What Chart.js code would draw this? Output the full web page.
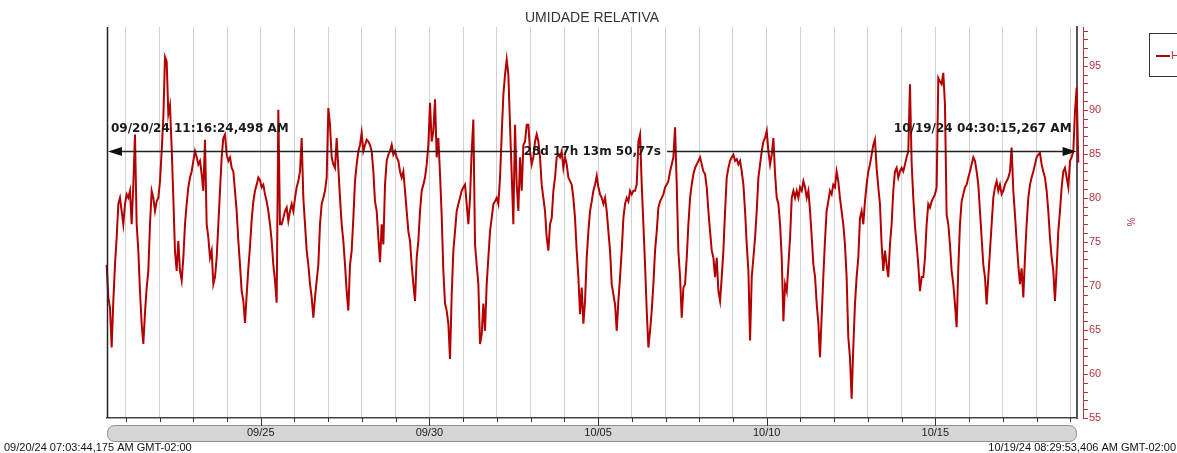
<!DOCTYPE html>
<html><head><meta charset="utf-8">
<script src="https://cdn.jsdelivr.net/npm/chart.js@4.4.1/dist/chart.umd.min.js"></script>
<style>html,body{margin:0;padding:0;background:#fff;overflow:hidden}canvas{display:block}</style>
</head><body>
<canvas id="c" width="1177" height="453"></canvas>
<script>
// ---- data (hours counted from 09/20/24 00:00 GMT-02:00) ----
const chartTitle = 'UMIDADE RELATIVA';
const seriesLabel = 'HR';
const axisUnit = '%';
const sampleStepHours = 1.186;
const segmentStartHours = [6.8, 176.4, 347.2, 517.9];
const humiditySeg1 = [
77.9,73.2,73.0,72.4,68.7,67.5,63.0,68.3,72.4,75.5,
79.3,80.0,78.5,77.0,79.3,80.4,80.0,80.8,77.0,81.5,
87.2,77.0,74.0,69.4,65.7,63.4,67.0,69.8,71.7,77.0,
80.8,80.0,78.5,79.6,80.0,81.9,85.3,89.1,96.0,95.5,
89.5,90.5,85.7,80.0,73.9,71.7,75.1,71.7,70.6,73.2,
77.0,79.3,81.2,82.3,83.0,84.2,85.3,84.6,83.8,84.2,
82.7,80.8,86.6,77.0,75.5,73.2,74.0,70.2,71.0,73.2,
77.0,80.8,84.6,86.8,87.2,84.9,84.2,84.6,83.4,83.0,
80.8,78.5,75.1,72.4,69.4,68.3,65.8,69.0,72.0,74.5,
77.5,79.6,80.8,81.5,82.3,82.0,81.2,81.5,80.4,79.6,
78.5,77.0,75.1,72.4,70.6,68.1,90.0,77.0,77.0,77.7,
78.5,78.9,77.4,78.5,79.3,78.5,80.0,81.2,81.9,83.0,
86.8,80.0,77.0,74.0,72.4,70.2,68.7,66.4,68.7,70.6,
72.4,77.0,79.3,80.0,80.8,82.3,90.2,88.3,84.6,83.8,
83.4,86.8,83.4];
const humiditySeg2 = [
80.0,77.0,75.1,72.4,69.4,67.2,72.4,74.0,77.7,81.9,
83.8,85.3,86.0,87.4,85.3,86.0,86.6,86.4,86.0,85.3,
83.0,79.6,78.5,75.5,72.7,77.0,74.7,81.5,84.2,84.9,
85.3,86.0,84.9,85.3,84.6,84.2,83.0,82.3,83.0,80.8,
78.5,76.2,75.1,72.4,70.2,68.3,73.2,75.1,78.5,80.8,
81.5,82.3,83.8,86.0,90.8,86.4,87.6,91.2,84.6,86.8,
82.7,78.0,71.7,68.0,67.2,65.7,61.7,69.0,74.0,76.2,
78.5,79.3,80.0,80.8,81.2,81.5,79.3,77.0,80.0,85.3,
88.9,74.7,72.4,70.2,63.4,64.5,68.0,64.9,70.2,73.2,
76.2,77.7,79.3,79.6,80.0,79.3,82.3,87.2,91.7,94.0,
95.7,94.0,88.3,82.7,77.0,88.3,81.5,78.5,84.6,80.8,
86.0,86.4,88.3,88.3,85.3,83.8,84.6,86.4,87.2,86.4,
84.6,81.5,80.0,78.5,75.5,74.0,77.0,77.7,80.8,82.3,
84.6,84.9,84.6,85.3,83.4,84.6,83.8,82.3,81.9,81.5,
80.0,77.7,74.0,71.0];
const humiditySeg3 = [
66.8,69.8,65.7,68.3,73.2,76.2,78.5,79.6,80.8,81.5,
82.5,81.2,80.4,80.0,79.3,80.0,78.5,76.2,74.0,70.2,
69.0,67.9,64.9,68.3,71.0,74.0,77.7,79.3,80.0,79.6,
80.8,80.4,80.8,80.8,81.5,86.4,87.2,81.5,77.0,72.4,
67.2,63.0,64.9,67.2,70.2,74.0,76.2,78.9,79.6,80.0,
80.4,81.2,81.5,81.9,83.0,83.8,84.6,88.0,81.5,73.9,
71.0,66.4,69.8,70.2,73.2,77.0,80.0,81.5,82.7,83.4,
83.8,84.2,84.6,83.8,83.0,82.7,81.2,78.5,76.2,74.0,
73.2,71.0,73.2,69.4,68.3,71.0,74.0,78.5,82.3,83.4,
84.2,84.6,84.9,84.2,84.4,83.8,84.2,83.0,81.5,78.5,
74.7,71.7,63.8,71.0,73.2,75.5,78.5,82.3,83.8,85.3,
86.4,86.8,87.6,85.3,83.8,84.9,86.8,82.7,80.0,79.3,
77.0,73.2,66.0,70.2,69.4,72.4,75.5,80.0,80.8,80.0,
80.8,80.0,81.2,80.8,81.9,81.2,80.0,80.8,78.5,75.5,
72.4,71.0,67.9,65.7];
const humiditySeg4 = [
61.9,66.4,71.0,75.1,78.5,79.6,80.8,80.4,81.5,81.2,
83.0,81.9,80.0,78.5,77.0,74.7,71.0,64.2,61.9,57.2,
63.0,67.9,71.0,73.2,77.7,78.5,77.0,79.6,81.5,83.0,
83.8,84.9,86.0,86.6,83.4,81.2,79.3,74.7,71.7,74.0,
72.4,71.0,74.7,77.0,80.8,83.0,83.4,82.3,83.0,83.4,
83.0,83.8,84.6,85.3,92.9,84.0,80.0,76.8,74.7,72.4,
69.4,71.0,71.0,73.2,77.0,79.3,78.9,79.6,80.0,80.4,
81.2,93.6,93.2,92.9,94.2,90.6,78.1,77.0,74.7,71.7,
70.2,67.9,65.3,72.0,77.0,79.6,80.4,81.2,81.5,82.3,
83.0,83.8,84.6,84.2,83.0,81.5,78.5,75.5,72.4,71.0,
67.9,71.0,74.0,77.0,80.0,81.2,81.9,80.8,81.5,80.4,
80.8,81.5,81.9,82.3,83.0,85.7,80.8,78.1,75.1,72.4,
70.2,72.0,68.7,73.2,77.0,80.0,81.5,82.3,83.0,83.8,
84.6,84.9,85.1,83.8,83.0,82.3,80.8,78.5,75.5,73.2,
71.7,68.3,72.0,76.2,78.5,81.2,83.0,83.4,82.3,81.2,
84.2,84.6,85.3,89.8,92.5,84.0,81.0];

const xMinHour = 10.6, xMaxHour = 700.8;
const dayTickHours = [24,48,72,96,120,144,168,192,216,240,264,288,312,336,360,384,408,432,456,480,504,528,552,576,600,624,648,672,696];
const xTickHours = [120,240,360,480,600];
const xTickLabels = ['09/25','09/30','10/05','10/10','10/15'];
const yMin = 55, yMax = 99.4;
const yTickValues = [55,60,65,70,75,80,85,90,95];
const yMinorTicks = [55,56,57,58,59,60,61,62,63,64,65,66,67,68,69,70,71,72,73,74,75,76,77,78,79,80,81,82,83,84,85,86,87,88,89,90,91,92,93,94,95,96,97,98,99];
const measureStartHour = 11.273, measureEndHour = 700.504, measureLevel = 85.3;
const measureStartLabel = '09/20/24 11:16:24,498 AM';
const measureEndLabel = '10/19/24 04:30:15,267 AM';
const measureSpanLabel = '28d 17h 13m 50,77s';
const rangeStartLabel = '09/20/24 07:03:44,175 AM GMT-02:00';
const rangeEndLabel = '10/19/24 08:29:53,406 AM GMT-02:00';

// ---- build points ----
const segments = [humiditySeg1, humiditySeg2, humiditySeg3, humiditySeg4];
const points = [];
segments.forEach((seg, s) => seg.forEach((v, i) => points.push({x: segmentStartHours[s] + i * sampleStepHours, y: v})));

const lineRed = '#b40000';
const axisRed = '#b8303a';
const SANS = '"Liberation Sans", Arial, sans-serif';

function rr(ctx, x, y, w, h, r) {
  ctx.beginPath();
  ctx.moveTo(x + r, y); ctx.lineTo(x + w - r, y); ctx.arcTo(x + w, y, x + w, y + r, r);
  ctx.lineTo(x + w, y + h - r); ctx.arcTo(x + w, y + h, x + w - r, y + h, r);
  ctx.lineTo(x + r, y + h); ctx.arcTo(x, y + h, x, y + h - r, r);
  ctx.lineTo(x, y + r); ctx.arcTo(x, y, x + r, y, r); ctx.closePath();
}

const decor = {
  id: 'decor',
  beforeDraw(chart) {
    const {ctx, chartArea: a} = chart;
    ctx.save();
    rr(ctx, a.left + 0.5, a.bottom + 7.5, a.right - a.left - 1, 16, 7);
    ctx.fillStyle = '#d6d6d6'; ctx.fill();
    ctx.strokeStyle = '#8e8e8e'; ctx.lineWidth = 1; ctx.stroke();
    ctx.restore();
  },
  afterDatasetsDraw(chart) {
    const {ctx, chartArea: a, scales: {x: xs, y: ys}} = chart;
    ctx.save();
    // left frame line
    ctx.strokeStyle = '#222'; ctx.lineWidth = 1.5;
    ctx.beginPath(); ctx.moveTo(a.left + 0.5, a.top); ctx.lineTo(a.left + 0.5, a.bottom); ctx.stroke();
    // measurement annotation
    const x1 = xs.getPixelForValue(measureStartHour), x2 = xs.getPixelForValue(measureEndHour);
    const yl = Math.round(ys.getPixelForValue(measureLevel)) + 0.5;
    ctx.font = 'bold 12px "DejaVu Sans", Verdana, sans-serif';
    const cx = (x1 + x2) / 2;
    const tw = ctx.measureText(measureSpanLabel).width;
    ctx.strokeStyle = '#222'; ctx.lineWidth = 1.3;
    ctx.beginPath();
    ctx.moveTo(x1 + 10, yl); ctx.lineTo(cx - tw / 2 - 6, yl);
    ctx.moveTo(cx + tw / 2 + 6, yl); ctx.lineTo(x2 - 10, yl);
    ctx.stroke();
    ctx.fillStyle = '#111';
    ctx.beginPath(); ctx.moveTo(x1, yl); ctx.lineTo(x1 + 14, yl - 4.5); ctx.lineTo(x1 + 14, yl + 4.5); ctx.closePath(); ctx.fill();
    ctx.beginPath(); ctx.moveTo(x2, yl); ctx.lineTo(x2 - 14, yl - 4.5); ctx.lineTo(x2 - 14, yl + 4.5); ctx.closePath(); ctx.fill();
    ctx.fillStyle = '#1a1a1a'; ctx.textBaseline = 'middle';
    ctx.textAlign = 'center'; ctx.fillText(measureSpanLabel, cx, yl);
    ctx.textAlign = 'left'; ctx.fillText(measureStartLabel, x1 + 3, yl - 23);
    ctx.textAlign = 'right'; ctx.fillText(measureEndLabel, x2 - 5, yl - 23);
    ctx.restore();
  },
  afterDraw(chart) {
    const {ctx, chartArea: a, scales: {x: xs, y: ys}} = chart;
    ctx.save();
    // x tick marks
    ctx.strokeStyle = '#333'; ctx.lineWidth = 1;
    ctx.beginPath();
    dayTickHours.forEach(h => {
      const px = Math.round(xs.getPixelForValue(h)) + 0.5;
      const len = xTickHours.includes(h) ? 8 : 4;
      ctx.moveTo(px, a.bottom); ctx.lineTo(px, a.bottom + len);
    });
    ctx.stroke();
    // red value axis with minor ticks
    const ax = Math.round(a.right) + 6.5;
    ctx.strokeStyle = axisRed; ctx.lineWidth = 1;
    ctx.beginPath(); ctx.moveTo(ax, a.top); ctx.lineTo(ax, a.bottom + 1);
    yMinorTicks.forEach(v => {
      const py = Math.round(ys.getPixelForValue(v)) + 0.5;
      ctx.moveTo(ax, py); ctx.lineTo(ax + 4.5, py);
    });
    ctx.stroke();
    // title
    ctx.fillStyle = '#333'; ctx.font = '14px ' + SANS; ctx.textAlign = 'center'; ctx.textBaseline = 'middle';
    ctx.fillText(chartTitle, (a.left + a.right) / 2, 18);
    // unit label (rotated)
    ctx.save(); ctx.translate(1130, 222); ctx.rotate(Math.PI / 2);
    ctx.fillStyle = axisRed; ctx.font = '10px ' + SANS; ctx.fillText(axisUnit, 0, 0);
    ctx.restore();
    // legend box
    ctx.strokeStyle = '#333'; ctx.lineWidth = 1;
    ctx.strokeRect(1149.5, 33.5, 60, 43);
    ctx.strokeStyle = lineRed; ctx.lineWidth = 2;
    ctx.beginPath(); ctx.moveTo(1156, 56); ctx.lineTo(1170, 56); ctx.stroke();
    ctx.fillStyle = axisRed; ctx.font = '11px ' + SANS; ctx.textAlign = 'left';
    ctx.fillText(seriesLabel, 1171, 56);
    // range labels
    ctx.fillStyle = '#111'; ctx.font = '11px ' + SANS; ctx.textBaseline = 'alphabetic';
    ctx.textAlign = 'left'; ctx.fillText(rangeStartLabel, 4, 451);
    ctx.textAlign = 'right'; ctx.fillText(rangeEndLabel, 1176, 451);
    ctx.restore();
  }
};

new Chart(document.getElementById('c'), {
  type: 'line',
  data: {datasets: [{
    label: seriesLabel, data: points, borderColor: lineRed, borderWidth: 2,
    pointRadius: 0, tension: 0, fill: false, clip: {left: 6, right: 5, top: 2, bottom: 0}
  }]},
  options: {
    responsive: false, animation: false, devicePixelRatio: 1,
    layout: {padding: {left: 107, top: 27, right: 0, bottom: 0}},
    plugins: {legend: {display: false}, title: {display: false}, tooltip: {enabled: false}},
    scales: {
      x: {
        type: 'linear', min: xMinHour, max: xMaxHour,
        afterBuildTicks: s => { s.ticks = dayTickHours.map(v => ({value: v})); },
        afterFit: s => { s.height = 35; },
        ticks: {
          autoSkip: false, maxRotation: 0, padding: 8, color: '#222',
          font: {size: 11, family: SANS},
          callback: v => { const i = xTickHours.indexOf(v); return i >= 0 ? xTickLabels[i] : ''; }
        },
        grid: {color: '#d2d2d2', lineWidth: 1, drawTicks: false},
        border: {display: true, color: '#444', width: 1.5}
      },
      y: {
        position: 'right', min: yMin, max: yMax,
        afterBuildTicks: s => { s.ticks = yTickValues.map(v => ({value: v})); },
        afterFit: s => { s.width = 100; },
        ticks: {padding: 12, color: axisRed, font: {size: 11, family: SANS}},
        grid: {display: false, drawTicks: false},
        border: {display: true, color: '#555', width: 2}
      }
    }
  },
  plugins: [decor]
});
</script>
</body></html>
